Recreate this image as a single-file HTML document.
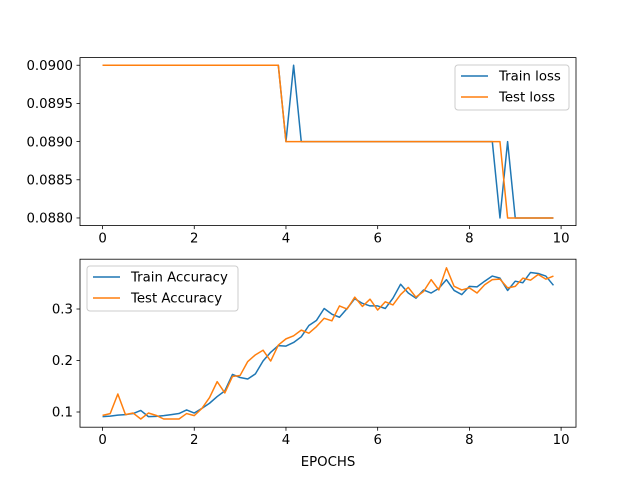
<!DOCTYPE html>
<html><head><meta charset="utf-8"><style>
body{margin:0;background:#fff}
svg text{font-family:"DejaVu Sans","Liberation Sans",sans-serif;font-size:13.3px;fill:#000}
</style></head><body>
<svg id="fig" width="640" height="480" xmlns="http://www.w3.org/2000/svg"></svg>
<script>
const trainLoss = [];
const testLoss = [];
for (let i = 0; i < 60; i++) {
  trainLoss.push(i <= 23 ? 0.090 : (i === 25 ? 0.090 : (i === 52 ? 0.088 : (i === 53 ? 0.089 : (i >= 54 ? 0.088 : 0.089)))));
  testLoss.push(i <= 23 ? 0.090 : (i <= 52 ? 0.089 : 0.088));
}
const trainAcc = [0.091,0.092,0.094,0.095,0.097,0.103,0.091,0.0915,0.093,0.095,0.097,0.104,0.098,0.107,0.117,0.130,0.141,0.173,0.167,0.164,0.174,0.199,0.216,0.229,0.228,0.235,0.246,0.268,0.278,0.301,0.290,0.284,0.301,0.320,0.311,0.306,0.306,0.301,0.321,0.348,0.331,0.321,0.337,0.331,0.340,0.357,0.336,0.328,0.344,0.343,0.354,0.364,0.360,0.336,0.354,0.351,0.371,0.369,0.364,0.346];
const testAcc = [0.0935,0.0968,0.135,0.095,0.098,0.0864,0.098,0.0935,0.0864,0.0864,0.0864,0.097,0.093,0.107,0.128,0.159,0.137,0.169,0.171,0.198,0.211,0.220,0.199,0.230,0.242,0.248,0.259,0.253,0.266,0.282,0.277,0.306,0.300,0.323,0.305,0.319,0.298,0.314,0.308,0.328,0.342,0.323,0.334,0.357,0.337,0.380,0.344,0.337,0.341,0.331,0.347,0.357,0.358,0.341,0.344,0.360,0.356,0.367,0.358,0.364];
const xTicks = [0,2,4,6,8,10];
const lossTicks = [0.0880,0.0885,0.0890,0.0895,0.0900];
const accTicks = [0.1,0.2,0.3];
const epochs = trainAcc.map((_, i) => i / 6);

const NS = "http://www.w3.org/2000/svg";
const svg = document.getElementById('fig');
function el(tag, attrs, parent) {
  const e = document.createElementNS(NS, tag);
  for (const k in attrs) e.setAttribute(k, attrs[k]);
  (parent || svg).appendChild(e);
  return e;
}
const L = 80, R = 576;
const xMin = -0.4917, xMax = 10.325;
const sx = v => L + (v - xMin) / (xMax - xMin) * (R - L);
function makeY(top, bot, lo, hi) { return v => bot - (v - lo) / (hi - lo) * (bot - top); }
const yLoss = makeY(57.6, 225.6, 0.0879, 0.0901);
const yAcc = makeY(259.2, 427.2, 0.07049, 0.39672);

function axes(top, bot, sy, yt, fmt, name) {
  const g = el('g', {});
  
  
  xTicks.forEach(t => {
    const x = sx(t);
    el('line', {x1:x, x2:x, y1:bot, y2:bot+3.5, stroke:'#000', 'stroke-width':0.8}, g);
    const tx = el('text', {x:x, y:bot+17, 'text-anchor':'middle'}, g);
    tx.textContent = t;
    
    
  });
  yt.forEach(t => {
    const y = sy(t);
    el('line', {x1:L-3.5, x2:L, y1:y, y2:y, stroke:'#000', 'stroke-width':0.8}, g);
    const tx = el('text', {x:L-7, y:y+4.7, 'text-anchor':'end'}, g);
    tx.textContent = fmt(t);
    
    
  });
  return g;
}
function series(vals, sy, color, name) {
  const pts = vals.map((v, i) => sx(epochs[i]).toFixed(2) + ',' + sy(v).toFixed(2)).join(' ');
  const p = el('polyline', {points:pts, fill:'none', stroke:color, 'stroke-width':1.5, 'stroke-linejoin':'round'});
  
  
}
function frame(top, bot) {
  el('rect', {x:L, y:top, width:R-L, height:bot-top, fill:'none', stroke:'#000', 'stroke-width':0.8});
}
function legend(x, y, w, labels, name) {
  const g = el('g', {});
  
  
  el('rect', {x:x, y:y, width:w, height:45, rx:3, fill:'#fff', 'fill-opacity':0.8, stroke:'#ccc', 'stroke-width':1}, g);
  labels.forEach((lb, i) => {
    const cy = y + 11 + i * 21;
    el('line', {x1:x+6, x2:x+33, y1:cy, y2:cy, stroke:lb[1], 'stroke-width':1.5}, g);
    const t = el('text', {x:x+44, y:cy+4.7}, g);
    t.textContent = lb[0];
    
    
  });
}

axes(57.6, 225.6, yLoss, lossTicks, v => v.toFixed(4), 'loss-axes');
series(trainLoss, yLoss, '#1f77b4', 'train-loss-line');
series(testLoss, yLoss, '#ff7f0e', 'test-loss-line');
frame(57.6, 225.6);
legend(455, 65, 114, [['Train loss','#1f77b4'],['Test loss','#ff7f0e']], 'loss-legend');

axes(259.2, 427.2, yAcc, accTicks, v => v.toFixed(1), 'accuracy-axes');
series(trainAcc, yAcc, '#1f77b4', 'train-accuracy-line');
series(testAcc, yAcc, '#ff7f0e', 'test-accuracy-line');
frame(259.2, 427.2);
legend(87, 266, 151, [['Train Accuracy','#1f77b4'],['Test Accuracy','#ff7f0e']], 'accuracy-legend');

const xl = el('text', {x:328, y:466, 'text-anchor':'middle'});
xl.textContent = 'EPOCHS';


</script>
</body></html>
